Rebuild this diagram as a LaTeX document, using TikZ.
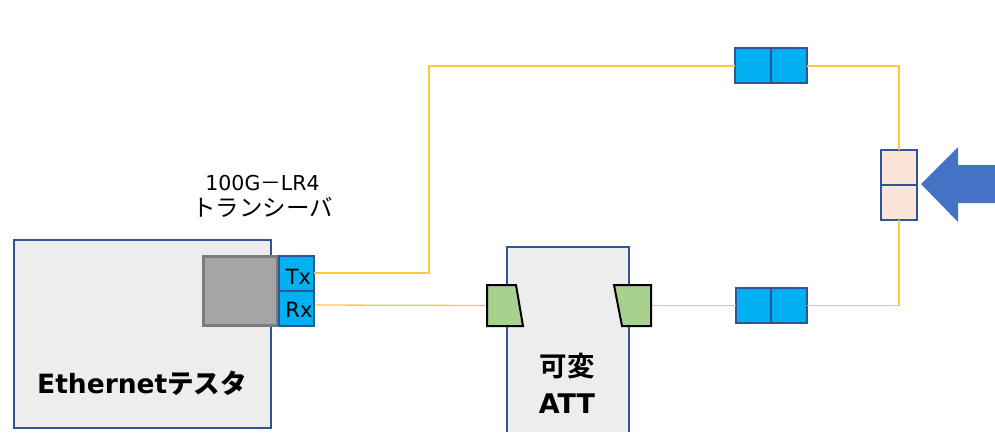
\documentclass[tikz,border=0pt]{standalone}
\usepackage{fontspec}
\setmainfont{DejaVu Sans}
\newfontfamily\jpfont{Noto Sans CJK JP}
\newfontfamily\jpbold{Noto Sans CJK JP Bold}
\definecolor{boxfill}{HTML}{EDEDED}
\definecolor{navy}{HTML}{2F5597}
\definecolor{grayfill}{HTML}{A5A5A5}
\definecolor{grayline}{HTML}{7B7B7B}
\definecolor{cyanfill}{HTML}{00B0F0}
\definecolor{greenfill}{HTML}{A9D18E}
\definecolor{beige}{HTML}{FBE5D6}
\definecolor{arrowblue}{HTML}{4472C4}
\definecolor{fiber}{HTML}{FFC83D}
\tikzset{
  panel/.style={draw=navy,line width=2pt,fill=boxfill,rectangle,outer sep=0pt,inner sep=0pt},
  sfp/.style={draw=grayline,line width=3pt,fill=grayfill,rectangle,outer sep=0pt,inner sep=0pt},
  port/.style={draw=navy,line width=2pt,fill=cyanfill,rectangle,outer sep=0pt,inner sep=0pt,minimum width=35pt,minimum height=35pt},
  adapter/.style={draw=navy,line width=2pt,fill=cyanfill,rectangle,outer sep=0pt,inner sep=0pt,minimum width=36pt,minimum height=35pt},
  coupler/.style={draw=navy,line width=2pt,fill=beige,rectangle,outer sep=0pt,inner sep=0pt,minimum width=36pt,minimum height=35pt},
  trap/.style={draw=black,line width=2pt,fill=greenfill,line join=miter},
  fibre/.style={draw=fiber,line width=1.3pt},
  lbl/.style={inner sep=0pt,outer sep=0pt,align=center}
}
\begin{document}
\begin{tikzpicture}[x=1pt,y=-1pt]
\useasboundingbox (0,0) rectangle (995,432);
% boxes
\node[panel,minimum width=257pt,minimum height=188pt] (eth) at (142.5,334) {};
\node[panel,draw=none,minimum width=122pt,minimum height=185pt] (att) at (568,339.5) {};
\draw[navy,line width=2pt] (att.south west) -- (att.north west) -- (att.north east) -- (att.south east);
% transceiver
\node[sfp,minimum width=74pt,minimum height=69pt] (sfp) at (240,290.5) {};
\node[port] (tx) at (296,273.5) {};
\node[port] (rx) at (296,308.5) {};
\node[lbl,font=\fontsize{21}{21}\selectfont] (txl) at (298.5,277) {Tx};
\node[lbl,font=\fontsize{21}{21}\selectfont] (rxl) at (299,310) {Rx};
% inline adapters
\node[adapter] (a1) at (753,65.5) {};
\node[adapter] (a2) at (789,65.5) {};
\node[adapter] (b1) at (754,305.5) {};
\node[adapter] (b2) at (789,305.5) {};
\node[coupler] (c1) at (899,167.5) {};
\node[coupler] (c2) at (899,202.5) {};
% attenuator ports
\coordinate (lp) at (487,305.5);
\coordinate (rp) at (651,305.5);
\coordinate (bendA) at (429,66);
\coordinate (bendB) at (429,273);
\coordinate (bendC) at (899,66);
\coordinate (bendD) at (899,305.5);
\coordinate (rxout) at (316,305);
% fibres
\draw[fibre] (tx.east |- bendB) -- (bendB) -- (bendA) -- (a1.west |- bendA);
\draw[fibre] (rxout) -- (lp);
\draw[fibre] (rp) -- (b1.west);
\draw[fibre] (a2.east |- bendC) -- (bendC) -- (c1.north);
\draw[fibre] (c2.south) -- (bendD) -- (b2.east);
\draw[trap] (lp |- 0,285) -- (516,285) -- (523,326) -- (lp |- 0,326) -- cycle;
\draw[trap] (rp |- 0,285) -- (614,285) -- (622,326) -- (rp |- 0,326) -- cycle;
% arrow
\fill[arrowblue] (921,184) -- (958,147) -- (958,165) -- (995,165) -- (995,203) -- (958,203) -- (958,222) -- cycle;
% labels
\node[lbl,font=\fontsize{20.5}{20.5}\selectfont] (t1) at (262.5,183) {100G{\jpfont －}LR4};
\node[lbl,font=\jpfont\fontsize{23.5}{23.5}\selectfont] (t2) at (262.5,207) {トランシーバ};
\node[lbl,font=\bfseries\fontsize{26.5}{26.5}\selectfont] (t3) at (142,383) {Ethernet{\jpbold テスタ}};
\node[lbl,font=\jpbold\fontsize{27.5}{27.5}\selectfont] (t4) at (567,366) {可変};
\node[lbl,font=\bfseries\fontsize{27}{27}\selectfont] (t5) at (567,404) {ATT};
\end{tikzpicture}
\end{document}
